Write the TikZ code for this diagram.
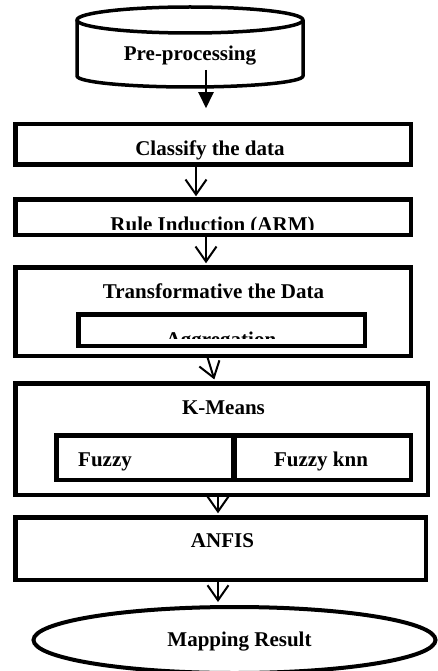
\documentclass[tikz,border=0pt]{standalone}
\usepackage{fontspec}
\setmainfont{Liberation Serif}
\usetikzlibrary{arrows.meta,shapes.geometric}
\begin{document}
\begin{tikzpicture}[x=1pt,y=-1pt,
  box/.style={draw, rectangle, line width=4.5pt, inner sep=0pt, outer sep=0pt},
  lbl/.style={font=\bfseries\fontsize{21}{24}\selectfont, inner sep=0pt, anchor=base},
  flow/.style={line width=2pt, -{Straight Barb[length=15pt,width=21pt,line width=2pt]}},
  solidflow/.style={line width=2pt, -{Triangle[length=16pt,width=15pt]}}]
\useasboundingbox (0,0) rectangle (438,671);

% storage cylinder
\draw[line width=3.5pt, line join=round]
  (190,20) ellipse [x radius=113, y radius=13];
\draw[line width=3.5pt, line join=round]
  (77,20) -- (77,76) arc[start angle=180, end angle=0, x radius=113, y radius=11] -- (303,20);
\node[lbl] (pre) at (190,61) {Pre-processing};
\coordinate (preout) at (206,70);

% processing stages
\node[box, minimum width=395.5pt, minimum height=40.5pt] (cls) at (213,144.5) {};
\node[lbl] (clst) at (210,156) {Classify the data};

\node[box, minimum width=395.5pt, minimum height=35.5pt] (rule) at (213,217) {};
\begin{scope}
  \clip (16,200) rectangle (410,229);
  \node[lbl] (rulet) at (212.5,231) {Rule Induction (ARM)};
\end{scope}

\node[box, minimum width=395.5pt, minimum height=88.5pt] (trans) at (213,311.5) {};
\node[lbl] (transt) at (213.5,298) {Transformative the Data};
\node[box, minimum width=286.5pt, minimum height=31.5pt] (agg) at (221.5,330) {};
\begin{scope}
  \clip (79,315) rectangle (364,338.5);
  \node[lbl] (aggt) at (221,346) {Aggregation};
\end{scope}

\node[box, minimum width=412.5pt, minimum height=111.5pt] (km) at (221.5,439) {};
\node[lbl] (kmt) at (223.5,414) {K-Means};
\node[box, minimum width=178.5pt, minimum height=44.5pt] (fz) at (145.5,457.5) {};
\node[box, minimum width=177.5pt, minimum height=44.5pt] (fzk) at (322,457.5) {};
\node[lbl] (fzt) at (105,466.5) {Fuzzy};
\node[lbl] (fzkt) at (321,466.5) {Fuzzy knn};

\node[box, minimum width=410.5pt, minimum height=62.5pt] (anfis) at (220.5,548.5) {};
\node[lbl] (anfist) at (222.5,547) {ANFIS};

\node[draw, ellipse, line width=4pt, minimum width=402pt, minimum height=66pt, inner sep=0pt] (map) at (234.5,640) {};
\node[lbl] (mapt) at (239.5,646) {Mapping Result};

% connectors
\draw[solidflow] (preout) -- (preout |- cls.north) [shorten >=16pt];
\draw[flow, shorten >=3pt] ([xshift=-17pt]cls.south) -- ([xshift=-17pt]rule.north);
\draw[flow, shorten >=4pt] ([xshift=-7pt]rule.south) -- ([xshift=-7pt]trans.north);
\draw[flow, shorten >=4pt] ([xshift=-6pt]trans.south) -- ([xshift=-6pt]km.north);
\draw[flow, shorten >=4pt] ([xshift=-3.5pt]km.south) -- ([xshift=-2.5pt]anfis.north);
\draw[flow, shorten >=3pt] ([xshift=-2.5pt]anfis.south) -- ([xshift=-16.5pt]map.north);
\end{tikzpicture}
\end{document}
